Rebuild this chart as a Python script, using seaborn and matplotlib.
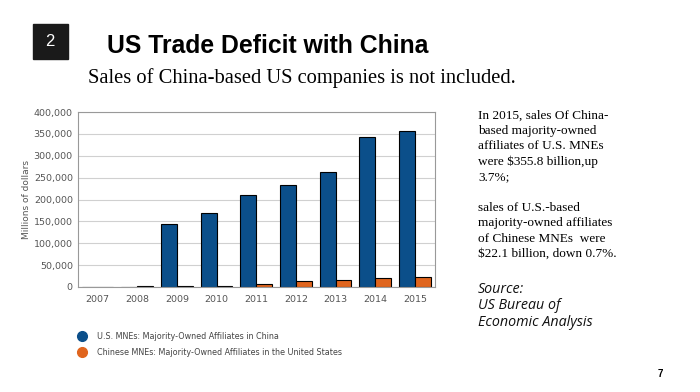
import pandas as pd
import seaborn as sns
import matplotlib.pyplot as plt
from matplotlib.lines import Line2D
from matplotlib.patches import Rectangle
from matplotlib.ticker import FuncFormatter

years = ['2007', '2008', '2009', '2010', '2011', '2012', '2013', '2014', '2015']
us_affiliates = [0, 0, 144000, 170000, 210000, 233000, 263000, 343000, 355800]
china_affiliates = [1000, 1500, 1500, 3000, 7500, 13000, 15000, 21000, 22100]
series_names = ['U.S. MNEs: Majority-Owned Affiliates in China',
                'Chinese MNEs: Majority-Owned Affiliates in the United States']
colores = ['#0b4f8a', '#e0651e']

df = pd.DataFrame({
    'year': years * 2,
    'value': us_affiliates + china_affiliates,
    'series': [series_names[0]] * len(years) + [series_names[1]] * len(years),
})

sns.set_style('white')
fig = plt.figure(figsize=(7, 3.92), dpi=100)
ax = fig.add_axes([0.111, 0.268, 0.51, 0.446])

sns.barplot(data=df, x='year', y='value', hue='series', palette=colores,
            saturation=1, edgecolor='black', linewidth=0.8, width=0.8,
            legend=False, ax=ax)

ax.set_ylim(0, 400000)
ax.set_yticks(range(0, 400001, 50000))
ax.yaxis.set_major_formatter(FuncFormatter(lambda v, p: f'{int(v):,}'))
ax.yaxis.grid(True, color='#d0d0d0', linewidth=0.8)
ax.set_axisbelow(True)
ax.tick_params(length=0, labelsize=6.8, labelcolor='#555555')
ax.tick_params(axis='x', pad=6)
ax.set_xlabel('')
ax.set_ylabel('Millions of dollars', fontsize=6.5, color='#555555', labelpad=2)
for s in ax.spines.values():
    s.set_color('#999999')
    s.set_linewidth(0.8)

# legend below the chart
handles = [Line2D([], [], marker='o', linestyle='', markersize=7, color=c) for c in colores]
fig.legend(handles, series_names, loc='upper left', bbox_to_anchor=(0.095, 0.172),
           frameon=False, fontsize=5.8, labelcolor='#444444', handletextpad=0.9,
           labelspacing=0.85)

# slide decorations
fig.patches.append(Rectangle((33 / 700, 1 - 59 / 392), 35 / 700, 35 / 392,
                             transform=fig.transFigure, color='#1a1a1a'))
fig.text(50 / 700, 1 - 41 / 392, '2', color='white', fontsize=12,
         ha='center', va='center', family='Liberation Sans')
fig.text(107 / 700, 1 - 46 / 392, 'US Trade Deficit with China', fontsize=17.8,
         fontweight='bold', family='Liberation Sans', va='center', color='black')
fig.text(88 / 700, 1 - 78 / 392, 'Sales of China-based US companies is not included.',
         fontsize=14.8, family='Liberation Serif', va='center', color='black')

note = ('In 2015, sales Of China-\nbased majority-owned\naffiliates of U.S. MNEs\n'
        'were $355.8 billion,up\n3.7%;\n\nsales of U.S.-based\nmajority-owned affiliates\n'
        'of Chinese MNEs  were\n$22.1 billion, down 0.7%.')
fig.text(478 / 700, 1 - 110 / 392, note, fontsize=9.5, family='Liberation Serif',
         va='top', linespacing=1.36, color='black')
fig.text(478 / 700, 1 - 282 / 392, 'Source:\nUS Bureau of\nEconomic Analysis',
         fontsize=10.3, family='Open Sans', style='italic', va='top', linespacing=1.12,
         color='#111111')
fig.text(660 / 700, 1 - 374 / 392, '7', fontsize=7, fontweight='bold',
         family='Liberation Sans', va='center', ha='center', color='black')

fig.savefig('out.png', dpi=100)
